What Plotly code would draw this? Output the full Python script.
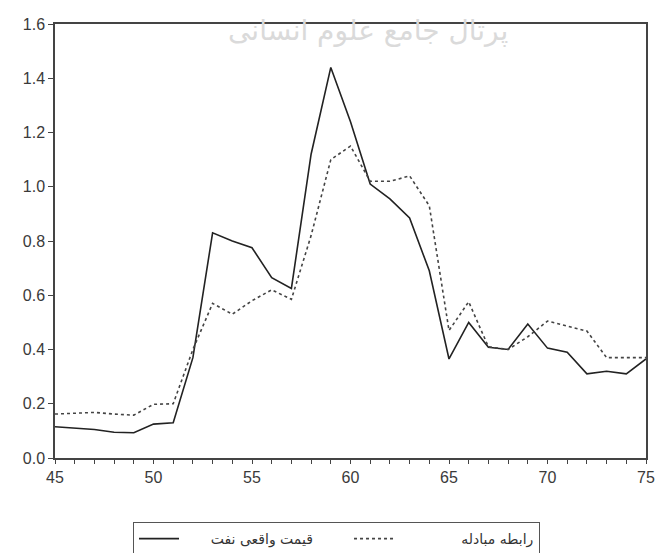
import plotly.graph_objects as go

years = list(range(45, 76))
oil_price = [0.115, 0.11, 0.105, 0.095, 0.093, 0.125, 0.13, 0.37, 0.83, 0.80,
             0.775, 0.665, 0.625, 1.12, 1.44, 1.24, 1.01, 0.955, 0.885, 0.69,
             0.365, 0.50, 0.408, 0.40, 0.494, 0.405, 0.39, 0.31, 0.32, 0.31, 0.365]
terms_of_trade = [0.162, 0.165, 0.168, 0.162, 0.158, 0.198, 0.20, 0.40, 0.57, 0.53,
                  0.58, 0.62, 0.585, 0.82, 1.10, 1.15, 1.02, 1.02, 1.04, 0.93,
                  0.47, 0.576, 0.41, 0.40, 0.447, 0.505, 0.487, 0.468, 0.37, 0.37, 0.37]
name_oil = "قیمت واقعی نفت"
name_tot = "رابطه مبادله"
watermark = "پرتال جامع علوم انسانی"

NB = "\u00a0"
LRM = "\u200e"
fig = go.Figure()
fig.add_trace(go.Scatter(x=years, y=oil_price, mode="lines",
                         name=NB * 6 + name_oil + LRM + NB * 7,
                         line=dict(color="#222222", width=1.6)))
fig.add_trace(go.Scatter(x=years, y=terms_of_trade, mode="lines",
                         name=NB * 14 + name_tot,
                         line=dict(color="#444444", width=1.6, dash="dot")))

axis_font = dict(family="Liberation Sans, Arial, sans-serif", size=16, color="#3a3a3a")
fig.update_layout(
    width=658, height=553,
    margin=dict(l=55, r=12, t=24, b=95, autoexpand=False),
    paper_bgcolor="white", plot_bgcolor="white",
    showlegend=True,
    legend=dict(orientation="h", xref="container", yref="container",
                x=133 / 658, y=(553 - 522) / 553, xanchor="left", yanchor="top",
                bordercolor="#555555", borderwidth=1, bgcolor="white",
                font=dict(family="DejaVu Sans", size=14, color="#333333"),
                itemwidth=40),
    xaxis=dict(range=[45, 75], tickvals=[45, 50, 55, 60, 65, 70, 75], automargin=False,
               ticks="outside", ticklen=4, tickcolor="#444444",
               minor=dict(dtick=1, ticks="outside", ticklen=4, tickcolor="#444444"),
               showgrid=False, zeroline=False, showline=True, linecolor="#444444",
               linewidth=1.5, mirror=True, tickfont=axis_font),
    yaxis=dict(range=[0, 1.6], dtick=0.2, tickformat=".1f", automargin=False,
               ticks="outside", ticklen=5, tickcolor="#444444",
               showgrid=False, zeroline=False, showline=True, linecolor="#444444",
               linewidth=1.5, mirror=True, tickfont=axis_font),
    annotations=[dict(text=watermark, xref="paper", yref="paper", x=0.53, y=0.985,
                      xanchor="center", yanchor="middle", showarrow=False,
                      font=dict(family="DejaVu Sans", size=28, color="#dadada"))],
)
fig.write_html("out.html")
